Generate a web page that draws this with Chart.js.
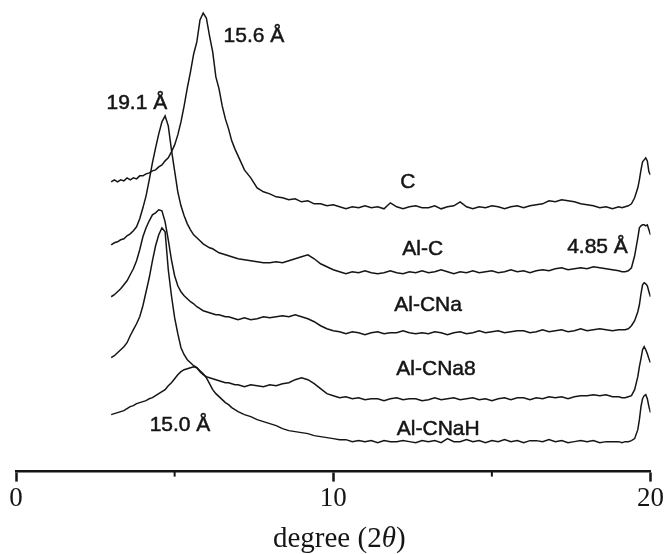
<!DOCTYPE html>
<html>
<head>
<meta charset="utf-8">
<title>XRD patterns</title>
<script src="https://cdn.jsdelivr.net/npm/chart.js@4.4.1/dist/chart.umd.min.js"></script>
<style>
  html, body { margin: 0; padding: 0; background: #fff; }
  canvas { display: block; }
</style>
</head>
<body>
<canvas id="xrdChart" width="665" height="554"></canvas>
<script>
// 2-theta positions (degrees), shared by all five patterns
const twoTheta = [
  3.0, 3.1, 3.2, 3.3, 3.4, 3.5, 3.6, 3.7, 3.8, 3.9,
  4.0, 4.1, 4.2, 4.3, 4.4, 4.5, 4.6, 4.7, 4.8, 4.9,
  5.0, 5.1, 5.2, 5.3, 5.4, 5.5, 5.6, 5.7, 5.8, 5.9,
  6.0, 6.1, 6.2, 6.3, 6.4, 6.5, 6.6, 6.7, 6.8, 6.9,
  7.0, 7.2, 7.4, 7.6, 7.8,
  8.0, 8.2, 8.4, 8.6, 8.8,
  9.0, 9.2, 9.4, 9.6, 9.8,
  10.0, 10.2, 10.4, 10.6, 10.8,
  11.0, 11.2, 11.4, 11.6, 11.8,
  12.0, 12.2, 12.4, 12.6, 12.8,
  13.0, 13.2, 13.4, 13.6, 13.8,
  14.0, 14.2, 14.4, 14.6, 14.8,
  15.0, 15.2, 15.4, 15.6, 15.8,
  16.0, 16.2, 16.4, 16.6, 16.8,
  17.0, 17.2, 17.4, 17.6, 17.8,
  18.0, 18.2, 18.4, 18.6, 18.8,
  19.0, 19.1, 19.2, 19.3, 19.4, 19.5, 19.6, 19.65, 19.7, 19.75, 19.8, 19.85, 19.9, 19.95,
  20.0
];

// intensities (arb. units, stacked with their offsets as plotted)
const patternC = [
  290, 292, 290, 292, 291, 294, 292, 294, 293, 296,
  296, 298, 299, 301, 302, 305, 307, 311, 314, 320,
  327, 337, 350, 366, 384, 400, 418, 430, 452, 459,
  454, 436, 420, 395, 383, 366, 353, 343, 331, 323,
  316, 302, 294, 284, 280,
  278, 275, 274, 272, 273,
  270, 271, 268, 268, 266,
  267, 265, 263, 265, 264,
  266, 264, 265, 263, 269,
  265, 263, 265, 266, 264,
  264, 266, 263, 265, 266,
  270, 265, 263, 265, 264,
  266, 265, 263, 265, 266,
  264, 266, 267, 268, 271,
  270, 272, 271, 270, 268,
  267, 266, 264, 265, 263,
  265, 264, 265, 266, 268, 274, 284, 292, 302, 310, 312, 314, 311, 300,
  297
];

const patternAlC = [
  227, 229, 230, 232, 233, 236, 238, 241, 245, 253,
  264, 276, 292, 309, 324, 338, 350, 356, 346, 322,
  301, 280, 266, 256, 248, 242, 237, 234, 231, 228,
  226, 224, 223, 221, 219, 218, 217, 216, 215, 214,
  213, 212, 211, 210, 209,
  209, 210, 209, 211, 213,
  215, 217, 213, 208, 205,
  202, 200, 198, 200, 199,
  201, 199, 198, 199, 201,
  199, 198, 200, 199, 201,
  199, 200, 202, 200, 198,
  200, 199, 201, 199, 200,
  201, 199, 200, 202, 200,
  201, 199, 201, 202, 201,
  203, 204, 202, 203, 204,
  203, 205, 204, 203, 202,
  201, 200, 200, 201, 204, 216, 234, 244, 246, 247, 247, 246, 247, 242,
  237
];

const patternAlCNa = [
  175, 177, 180, 183, 187, 191, 197, 203, 211, 222,
  235, 244, 251, 257, 259, 262, 261, 250, 232, 212,
  196, 186, 180, 176, 173, 170, 168, 165, 163, 161,
  160, 159, 158, 157, 157, 156, 155, 155, 154, 153,
  152, 154, 152, 153, 155,
  154, 155, 156, 155, 157,
  155, 153, 150, 146, 143,
  141, 140, 138, 140, 139,
  137, 139, 140, 138, 139,
  139, 141, 139, 138, 139,
  138, 140, 139, 137, 139,
  140, 138, 139, 141, 139,
  140, 141, 139, 140, 141,
  141, 139, 140, 142, 140,
  141, 142, 140, 141, 143,
  141, 142, 143, 142, 141,
  142, 142, 142, 143, 146, 151, 160, 167, 178, 187, 189, 188, 186, 180,
  175
];

const patternAlCNa8 = [
  114, 116, 119, 122, 125, 129, 136, 142, 148, 155,
  166, 180, 194, 211, 226, 237, 244, 240, 202, 176,
  154, 138, 124, 117, 112, 109, 106, 104, 100, 97,
  95, 94, 93, 92, 91, 90, 89, 89, 88, 87,
  87, 85, 87, 86, 85,
  87, 86, 88, 89, 92,
  94, 92, 88, 83, 78,
  76, 74, 75, 73, 74,
  72, 73, 73, 71, 73,
  74, 72, 73, 73, 71,
  72, 74, 72, 73, 74,
  72, 73, 74, 72, 73,
  71, 73, 74, 72, 74,
  74, 72, 74, 73, 75,
  74, 75, 73, 75, 76,
  76, 77, 76, 77, 75,
  75, 74, 74, 75, 76, 82, 95, 105, 113, 122, 125, 122, 118, 113,
  109
];

const patternAlCNaH = [
  57, 58, 59, 60, 61, 63, 65, 66, 68, 69,
  70, 71, 73, 74, 76, 78, 80, 82, 86, 89,
  93, 97, 100, 102, 103, 104, 105, 104, 101, 98,
  94, 88, 82, 78, 75, 72, 69, 67, 64, 62,
  60, 57, 55, 52, 50,
  48, 46, 43, 41, 40,
  39, 38, 36, 35, 34,
  33, 32, 32, 30, 31,
  30, 31, 29, 31, 30,
  30, 31, 30, 29, 31,
  30, 31, 29, 33, 30,
  30, 32, 30, 31, 29,
  31, 30, 32, 30, 31,
  29, 31, 31, 30, 32,
  30, 31, 29, 30, 31,
  30, 31, 29, 30, 30,
  30, 29, 30, 30, 31, 33, 42, 52, 65, 73, 76, 77, 73, 65,
  59
];

const seriesNames = ["C", "Al-C", "Al-CNa", "Al-CNa8", "Al-CNaH"];
const seriesValues = [patternC, patternAlC, patternAlCNa, patternAlCNa8, patternAlCNaH];

const xTickValues = [0, 10, 20];
const xMinorTicks = [5, 15];

// text placed on the plot (x in degrees, y in intensity units)
const notes = [
  { text: "15.6 Å", x: 7.5, y: 436 },
  { text: "19.1 Å", x: 3.81, y: 369 },
  { text: "C", x: 12.35, y: 290 },
  { text: "Al-C", x: 12.82, y: 223 },
  { text: "4.85 Å", x: 18.33, y: 225 },
  { text: "Al-CNa", x: 12.99, y: 167 },
  { text: "Al-CNa8", x: 13.24, y: 102 },
  { text: "Al-CNaH", x: 13.31, y: 42 },
  { text: "15.0 Å", x: 5.17, y: 46 }
];

const ink = "#151515";
const serif = '"Liberation Serif", "Times New Roman", serif';
const sans = '"Liberation Sans", Arial, sans-serif';

const extras = {
  id: "extras",
  afterDraw(chart) {
    const { ctx, chartArea } = chart;
    const x = chart.scales.x;
    const y = chart.scales.y;
    ctx.save();

    // short minor ticks under the axis
    ctx.strokeStyle = ink;
    ctx.lineWidth = 2;
    xMinorTicks.forEach(v => {
      const px = x.getPixelForValue(v);
      ctx.beginPath();
      ctx.moveTo(px, chartArea.bottom);
      ctx.lineTo(px, chartArea.bottom + 5);
      ctx.stroke();
    });

    // peak / sample labels (thin stroke to mimic the heavier print)
    ctx.fillStyle = ink;
    ctx.lineWidth = 0.5;
    ctx.font = "21px " + sans;
    ctx.textAlign = "center";
    ctx.textBaseline = "middle";
    notes.forEach(n => {
      const px = x.getPixelForValue(n.x);
      const py = y.getPixelForValue(n.y);
      ctx.fillText(n.text, px, py);
      ctx.strokeText(n.text, px, py);
    });

    // axis title: degree (2θ) with italic theta
    const parts = [
      { t: "degree (2", f: "29px " + serif },
      { t: "θ", f: "italic 29px " + serif },
      { t: ")", f: "29px " + serif }
    ];
    let total = 0;
    parts.forEach(p => { ctx.font = p.f; p.w = ctx.measureText(p.t).width; total += p.w; });
    let cx = (chartArea.left + chartArea.right) / 2 + 6 - total / 2;
    const by = chartArea.bottom + 75;
    ctx.textAlign = "left";
    ctx.textBaseline = "alphabetic";
    parts.forEach(p => { ctx.font = p.f; ctx.fillText(p.t, cx, by); cx += p.w; });

    ctx.restore();
  }
};

new Chart(document.getElementById("xrdChart"), {
  type: "line",
  data: {
    datasets: seriesNames.map((name, i) => ({
      label: name,
      data: twoTheta.map((t, j) => ({ x: t, y: seriesValues[i][j] })),
      borderColor: ink,
      borderWidth: 1.5,
      pointRadius: 0,
      tension: 0,
      fill: false
    }))
  },
  options: {
    responsive: false,
    animation: false,
    layout: { padding: { left: 16, right: 13, top: 2, bottom: 38 } },
    plugins: { legend: { display: false }, tooltip: { enabled: false } },
    scales: {
      x: {
        type: "linear",
        min: 0,
        max: 20,
        afterBuildTicks: axis => { axis.ticks = xTickValues.map(v => ({ value: v })); },
        border: { display: true, color: ink, width: 2.5 },
        grid: { drawOnChartArea: false, drawTicks: true, tickLength: 10, tickWidth: 2.5, tickColor: ink },
        ticks: { color: ink, font: { family: serif, size: 27 }, padding: 1, maxRotation: 0 }
      },
      y: { display: false, min: 0, max: 470 }
    }
  },
  plugins: [extras]
});
</script>
</body>
</html>
